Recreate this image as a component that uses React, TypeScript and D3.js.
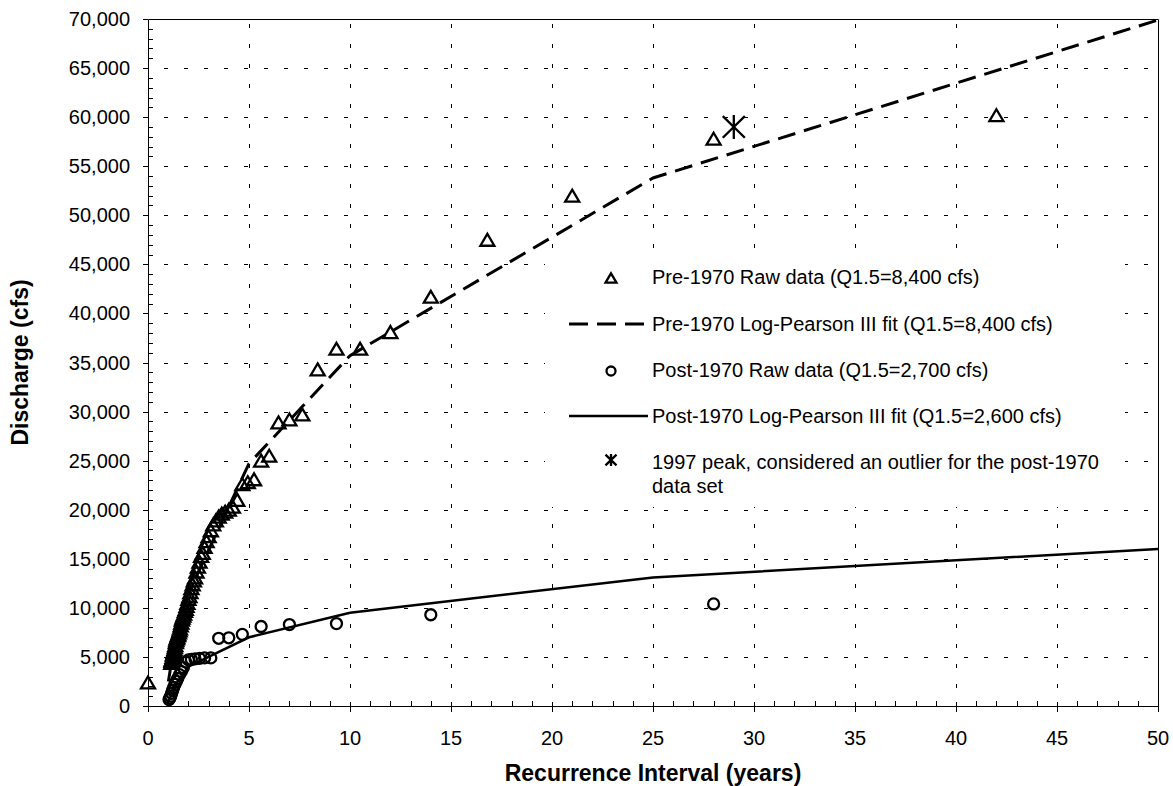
import { useRef, useEffect } from 'react'
import * as d3 from 'd3'

// pre-1970 annual peaks (recurrence interval, discharge cfs)
const preInterval = [0, 1.15, 1.17, 1.18, 1.2, 1.22, 1.24, 1.25, 1.27, 1.29, 1.31, 1.33, 1.35, 1.38, 1.4, 1.42, 1.45, 1.47, 1.5, 1.53, 1.56, 1.58, 1.62, 1.65, 1.68, 1.71, 1.75, 1.79, 1.83, 1.87, 1.91, 1.95, 2.0, 2.05, 2.1, 2.15, 2.21, 2.27, 2.33, 2.4, 2.47, 2.55, 2.63, 2.71, 2.8, 2.9, 3.0, 3.11, 3.23, 3.36, 3.5, 3.65, 3.82, 4.0, 4.2, 4.42, 4.67, 4.94, 5.25, 5.6, 6.0, 6.46, 7.0, 7.64, 8.4, 9.33, 10.5, 12.0, 14.0, 16.8, 21.0, 28.0, 42.0]
const preDischarge = [2400, 4400, 4600, 4700, 4800, 5000, 5200, 5300, 5500, 5600, 5800, 6000, 6200, 6500, 6700, 6900, 7000, 7200, 7300, 7500, 7700, 7900, 8200, 8500, 8800, 9000, 9200, 9400, 9700, 9900, 10200, 10500, 10900, 11200, 11600, 12000, 12400, 12800, 13100, 13700, 14200, 14700, 15300, 15600, 16200, 16800, 17300, 17900, 18500, 18900, 19300, 19600, 19800, 20000, 20300, 21000, 22600, 22800, 23100, 25000, 25500, 28900, 29200, 29700, 34300, 36400, 36400, 38100, 41700, 47500, 52000, 57800, 60200]

// post-1970 annual peaks
const postInterval = [1.04, 1.08, 1.12, 1.17, 1.22, 1.27, 1.33, 1.4, 1.47, 1.56, 1.65, 1.75, 1.87, 2.0, 2.15, 2.33, 2.55, 2.8, 3.11, 3.5, 4.0, 4.67, 5.6, 7.0, 9.33, 14.0, 28.0]
const postDischarge = [650, 800, 1000, 1300, 1600, 1900, 2200, 2500, 2800, 3200, 3500, 3900, 4500, 4700, 4750, 4800, 4850, 4900, 4900, 6900, 6950, 7300, 8100, 8300, 8400, 9300, 10400]

// Log-Pearson III fits
const preFitInterval = [1.01, 1.25, 1.5, 2, 5, 10, 25, 50]
const preFitDischarge = [2500, 5600, 8400, 11500, 24700, 35700, 53800, 69900]
const postFitInterval = [1.01, 1.25, 1.5, 2, 5, 10, 25, 50]
const postFitDischarge = [400, 1700, 2600, 4000, 7000, 9500, 13100, 16000]

// 1997 peak (outlier)
const outlierInterval = [29]
const outlierDischarge = [59000]

const xTickValues = [0, 5, 10, 15, 20, 25, 30, 35, 40, 45, 50]
const yTickValues = [0, 5000, 10000, 15000, 20000, 25000, 30000, 35000, 40000, 45000, 50000, 55000, 60000, 65000, 70000]

const legendLabels = [
  'Pre-1970 Raw data (Q1.5=8,400 cfs)',
  'Pre-1970 Log-Pearson III fit (Q1.5=8,400 cfs)',
  'Post-1970 Raw data (Q1.5=2,700 cfs)',
  'Post-1970 Log-Pearson III fit (Q1.5=2,600 cfs)',
  '1997 peak, considered an outlier for the post-1970',
]

const width = 1173
const height = 786
const margin = { top: 19, right: 15, bottom: 80, left: 148 }
const font = 'Arial, "Liberation Sans", sans-serif'

const trianglePath = (s) => `M0,${-s * 0.85}L${s},${s * 0.85}L${-s},${s * 0.85}Z`
const asteriskPath = (s) => `M0,${-s}V${s}M${-s * 0.92},${-s * 0.9}L${s * 0.92},${s * 0.9}M${-s * 0.92},${s * 0.9}L${s * 0.92},${-s * 0.9}`

function drawChart(target) {
  const svg = d3.select(target)
  svg.selectAll('*').remove()

  const x = d3.scaleLinear().domain([0, 50]).range([margin.left, width - margin.right])
  const y = d3.scaleLinear().domain([0, 70000]).range([height - margin.bottom, margin.top])
  const [x0, x1] = x.range()
  const [y0, y1] = y.range()

  // gridlines
  const grid = svg.append('g').attr('stroke', '#000').attr('stroke-width', 1).attr('stroke-dasharray', '4 16')
  grid
    .selectAll('.hgrid')
    .data(yTickValues.filter((d) => d > 0 && d < 70000))
    .join('line')
    .attr('x1', x0)
    .attr('x2', x1)
    .attr('y1', (d) => Math.round(y(d)) + 0.5)
    .attr('y2', (d) => Math.round(y(d)) + 0.5)
    .attr('stroke-dashoffset', 4)
  grid
    .selectAll('.vgrid')
    .data(xTickValues.filter((d) => d > 0 && d < 50))
    .join('line')
    .attr('x1', (d) => Math.round(x(d)) + 0.5)
    .attr('x2', (d) => Math.round(x(d)) + 0.5)
    .attr('y1', y0)
    .attr('y2', y1)
    .attr('stroke-dashoffset', 2)

  // fit lines
  const line = d3
    .line()
    .x((d) => x(d[0]))
    .y((d) => y(d[1]))

  svg
    .append('path')
    .datum(d3.zip(preFitInterval, preFitDischarge))
    .attr('d', line)
    .attr('fill', 'none')
    .attr('stroke', '#000')
    .attr('stroke-width', 3)
    .attr('stroke-dasharray', '18 9')

  svg
    .append('path')
    .datum(d3.zip(postFitInterval, postFitDischarge))
    .attr('d', line)
    .attr('fill', 'none')
    .attr('stroke', '#000')
    .attr('stroke-width', 2.5)

  // markers
  svg
    .append('g')
    .selectAll('path')
    .data(d3.zip(preInterval, preDischarge))
    .join('path')
    .attr('d', trianglePath(7))
    .attr('transform', (d) => `translate(${x(d[0])},${y(d[1])})`)
    .attr('fill', 'none')
    .attr('stroke', '#000')
    .attr('stroke-width', 2.3)

  svg
    .append('g')
    .selectAll('circle')
    .data(d3.zip(postInterval, postDischarge))
    .join('circle')
    .attr('cx', (d) => x(d[0]))
    .attr('cy', (d) => y(d[1]))
    .attr('r', 5.5)
    .attr('fill', 'none')
    .attr('stroke', '#000')
    .attr('stroke-width', 2.3)

  svg
    .append('g')
    .selectAll('path')
    .data(d3.zip(outlierInterval, outlierDischarge))
    .join('path')
    .attr('d', asteriskPath(12))
    .attr('transform', (d) => `translate(${x(d[0])},${y(d[1])})`)
    .attr('fill', 'none')
    .attr('stroke', '#000')
    .attr('stroke-width', 2.3)

  // frame
  const frame = svg.append('g').attr('stroke', '#000').attr('stroke-width', 1).attr('fill', 'none')
  frame.append('path').attr('d', `M${x0 + 0.5},${y0}V${y1 + 0.5}H${x1 + 0.5}V${y0 + 0.5}H${x0}`)

  // y ticks
  frame
    .selectAll('.ymajor')
    .data(yTickValues)
    .join('line')
    .attr('x1', x0 - 5)
    .attr('x2', x0)
    .attr('y1', (d) => Math.round(y(d)) + 0.5)
    .attr('y2', (d) => Math.round(y(d)) + 0.5)
  frame
    .selectAll('.yminor')
    .data(d3.range(1000, 70000, 1000).filter((d) => d % 5000 !== 0))
    .join('line')
    .attr('x1', x0)
    .attr('x2', x0 + 5)
    .attr('y1', (d) => Math.round(y(d)) + 0.5)
    .attr('y2', (d) => Math.round(y(d)) + 0.5)

  // x ticks
  frame
    .selectAll('.xmajor')
    .data(xTickValues)
    .join('line')
    .attr('x1', (d) => Math.round(x(d)) + 0.5)
    .attr('x2', (d) => Math.round(x(d)) + 0.5)
    .attr('y1', y0 - 4)
    .attr('y2', y0 + 6)
  frame
    .selectAll('.xminor')
    .data(d3.range(1, 50, 1).filter((d) => d % 5 !== 0))
    .join('line')
    .attr('x1', (d) => Math.round(x(d)) + 0.5)
    .attr('x2', (d) => Math.round(x(d)) + 0.5)
    .attr('y1', y0 - 5)
    .attr('y2', y0)

  const fmt = d3.format(',')
  svg
    .append('g')
    .selectAll('text')
    .data(yTickValues)
    .join('text')
    .attr('x', 130)
    .attr('y', (d) => y(d) + 7)
    .attr('text-anchor', 'end')
    .attr('font-family', font)
    .attr('font-size', 20)
    .text((d) => fmt(d))

  svg
    .append('g')
    .selectAll('text')
    .data(xTickValues)
    .join('text')
    .attr('x', (d) => x(d))
    .attr('y', 745)
    .attr('text-anchor', 'middle')
    .attr('font-family', font)
    .attr('font-size', 20)
    .text((d) => d)

  // axis titles
  svg
    .append('text')
    .attr('x', (x0 + x1) / 2)
    .attr('y', 781)
    .attr('text-anchor', 'middle')
    .attr('font-family', font)
    .attr('font-size', 23)
    .attr('font-weight', 'bold')
    .text('Recurrence Interval (years)')

  svg
    .append('text')
    .attr('transform', `translate(28,${(y0 + y1) / 2}) rotate(-90)`)
    .attr('text-anchor', 'middle')
    .attr('font-family', font)
    .attr('font-size', 23)
    .attr('font-weight', 'bold')
    .text('Discharge (cfs)')

  // legend
  const legend = svg.append('g')
  legend.append('rect').attr('x', 545).attr('y', 257).attr('width', 580).attr('height', 250).attr('fill', '#fff')

  const rowY = [277, 324, 370, 416, 462]
  const markX = 611
  const textX = 652

  legend.append('path').attr('d', trianglePath(5.5)).attr('transform', `translate(${markX},${rowY[0] + 1})`).attr('fill', 'none').attr('stroke', '#000').attr('stroke-width', 2.3)
  legend.append('line').attr('x1', 569).attr('x2', 647).attr('y1', rowY[1]).attr('y2', rowY[1]).attr('stroke', '#000').attr('stroke-width', 3).attr('stroke-dasharray', '19 9')
  legend.append('circle').attr('cx', markX).attr('cy', rowY[2] + 1).attr('r', 4.5).attr('fill', 'none').attr('stroke', '#000').attr('stroke-width', 2.3)
  legend.append('line').attr('x1', 569).attr('x2', 648).attr('y1', rowY[3]).attr('y2', rowY[3]).attr('stroke', '#000').attr('stroke-width', 2.5)
  legend.append('path').attr('d', asteriskPath(6)).attr('transform', `translate(${markX},${rowY[4] - 2})`).attr('fill', 'none').attr('stroke', '#000').attr('stroke-width', 2.3)

  legend
    .selectAll('.label')
    .data(legendLabels)
    .join('text')
    .attr('x', textX)
    .attr('y', (d, i) => rowY[i] + 7)
    .attr('font-family', font)
    .attr('font-size', 20)
    .text((d) => d)
  legend
    .append('text')
    .attr('x', textX)
    .attr('y', rowY[4] + 31)
    .attr('font-family', font)
    .attr('font-size', 20)
    .text('data set')
}

export default function App() {
  const targetSVG = useRef(null)

  useEffect(() => {
    drawChart(targetSVG.current)
  }, [])

  return (
    <svg
      ref={targetSVG}
      width={width}
      height={height}
      style={{ position: 'absolute', left: 0, top: 0, background: '#fff' }}
    />
  )
}
